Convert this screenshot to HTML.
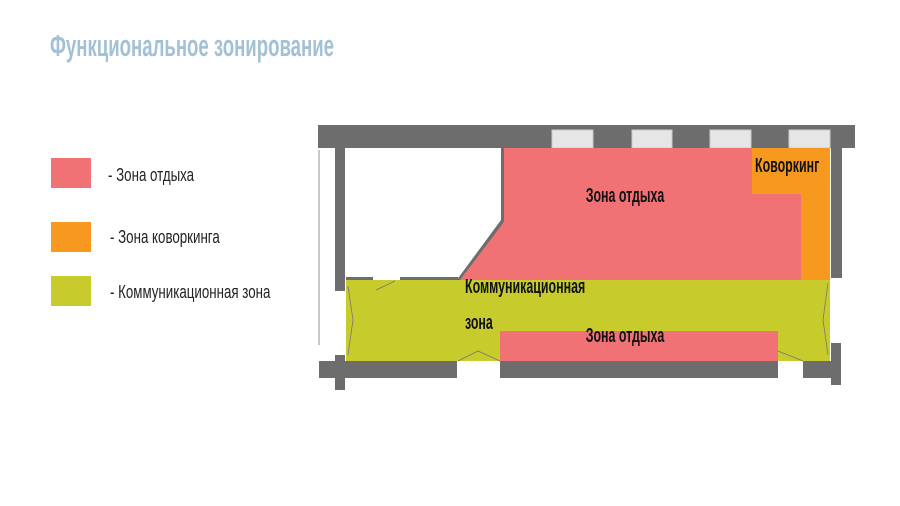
<!DOCTYPE html>
<html><head><meta charset="utf-8"><style>
body{margin:0;width:900px;height:506px;background:#fff;overflow:hidden;position:relative;font-family:"Liberation Sans Narrow","Liberation Sans",sans-serif}
.t{position:absolute;white-space:nowrap}
</style></head><body>
<div class="t" style="left:50px;top:28px;font-size:31px;font-weight:bold;color:#a3c1d4;transform:scaleX(0.6);transform-origin:left">Функциональное зонирование</div>
<div style="position:absolute;left:51px;top:158px;width:40px;height:30px;background:#f07274"></div>
<div style="position:absolute;left:51px;top:222px;width:40px;height:30px;background:#f7991f"></div>
<div style="position:absolute;left:51px;top:276px;width:40px;height:30px;background:#c8cb2c"></div>
<div class="t" style="left:108px;top:165px;font-size:18px;color:#222;transform:scaleX(0.74);transform-origin:left">- Зона отдыха</div>
<div class="t" style="left:110px;top:227px;font-size:18px;color:#222;transform:scaleX(0.74);transform-origin:left">- Зона коворкинга</div>
<div class="t" style="left:110px;top:282px;font-size:18px;color:#222;transform:scaleX(0.74);transform-origin:left">- Коммуникационная зона</div>
<svg width="900" height="506" style="position:absolute;left:0;top:0">
<g fill="#6d6d6d">
<rect x="318" y="125" width="537" height="23"/>
<rect x="335" y="148" width="10" height="143"/>
<rect x="831" y="148" width="11" height="130"/>
<rect x="319" y="361" width="138" height="17"/>
<rect x="500" y="361" width="278" height="17"/>
<rect x="803" y="361" width="28" height="17"/>
<rect x="335" y="355" width="10" height="35"/>
<rect x="831" y="343" width="10" height="42"/>
<rect x="346" y="277" width="27" height="4"/>
<rect x="400" y="277" width="58" height="4"/>
<polygon points="501,148 504,148 504,222 461,281 456,281 501,220"/>
</g>
<g fill="#e6e6e6" stroke="#ccc" stroke-width="1">
<rect x="552" y="130" width="41" height="18"/>
<rect x="632" y="130" width="40" height="18"/>
<rect x="710" y="130" width="41" height="18"/>
<rect x="789" y="130" width="41" height="18"/>
</g>
<polygon fill="#f07274" points="504,148 801,148 801,280 460,280 504,222"/>
<polygon fill="#f7991f" points="752,148 830,148 830,280 801,280 801,194 752,194"/>
<rect x="346" y="280" width="484" height="81" fill="#c8cb2c"/>
<rect x="500" y="331" width="278" height="30" fill="#f07274"/>
<g stroke="#777" stroke-width="0.8" fill="none">
<polyline points="376,290 395,281"/>
<polyline points="348,286 353,320 348,355"/>
<polyline points="828,283 823,320 828,355"/>
<polyline points="458,361 478,351 500,361"/>
<polyline points="778,351 803,361"/>
<line x1="319" y1="150" x2="319" y2="345"/>
</g>
</svg>
<div class="t" style="left:625px;top:185px;font-size:20px;font-weight:bold;color:#111;transform:translateX(-50%) scaleX(0.62)">Зона отдыха</div>
<div class="t" style="left:755px;top:155px;font-size:20px;font-weight:bold;color:#111;transform:scaleX(0.62);transform-origin:left">Коворкинг</div>
<div class="t" style="left:465px;top:276px;font-size:20px;font-weight:bold;color:#111;transform:scaleX(0.62);transform-origin:left">Коммуникационная</div>
<div class="t" style="left:465px;top:312px;font-size:20px;font-weight:bold;color:#111;transform:scaleX(0.62);transform-origin:left">зона</div>
<div class="t" style="left:625px;top:325px;font-size:20px;font-weight:bold;color:#111;transform:translateX(-50%) scaleX(0.62)">Зона отдыха</div>
</body></html>
